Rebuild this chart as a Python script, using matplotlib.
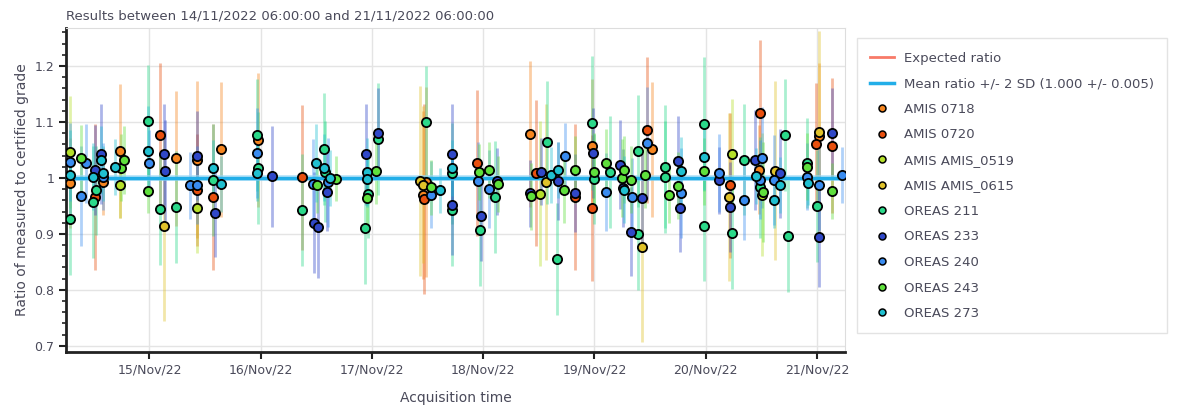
import numpy as np
import pandas as pd
import matplotlib
matplotlib.use("Agg")
import matplotlib.pyplot as plt
import matplotlib.dates as mdates
from matplotlib.lines import Line2D
from matplotlib.ticker import MultipleLocator, FuncFormatter

# window of the QC report
start = pd.Timestamp("2022-11-14 06:00:00")
end = pd.Timestamp("2022-11-21 06:00:00")

mean_ratio = 1.000
mean_sd2 = 0.005

# hours since start, measured/certified ratio, error (+/-)
amis0718_h = [0.9, 8.0, 11.7, 23.7, 28.2, 33.4, 41.4, 77.0, 77.6, 100.2, 113.5, 126.4, 149.6, 162.5]
amis0718_v = [0.991, 0.993, 1.048, 1.035, 1.033, 1.051, 1.068, 0.969, 0.993, 1.079, 1.057, 1.051, 1.015, 1.075]
amis0718_e = [0.08, 0.06, 0.12, 0.12, 0.14, 0.12, 0.12, 0.15, 0.17, 0.13, 0.12, 0.12, 0.08, 0.13]

amis0720_h = [6.3, 20.3, 28.2, 31.7, 50.9, 77.3, 88.6, 101.4, 109.7, 113.5, 125.3, 143.3, 149.8, 161.7, 165.3]
amis0720_v = [0.966, 1.076, 0.978, 0.966, 1.001, 0.963, 1.027, 1.009, 0.966, 0.946, 1.086, 0.987, 1.116, 1.060, 1.058]
amis0720_e = [0.13, 0.13, 0.10, 0.13, 0.13, 0.17, 0.13, 0.13, 0.13, 0.13, 0.13, 0.13, 0.13, 0.11, 0.12]

amis0519_h = [0.9, 11.7, 28.2, 102.3, 143.7, 150.2]
amis0519_v = [1.046, 0.988, 0.946, 0.972, 1.042, 0.970]
amis0519_e = [0.10, 0.06, 0.08, 0.13, 0.10, 0.11]

amis0615_h = [21.2, 76.4, 77.0, 103.6, 124.3, 143.0, 153.0, 162.5]
amis0615_v = [0.915, 0.994, 0.988, 0.993, 0.876, 0.966, 1.013, 1.083]
amis0615_e = [0.17, 0.17, 0.14, 0.14, 0.17, 0.15, 0.16, 0.18]

oreas211_h = [0.9, 5.8, 6.5, 17.6, 20.3, 23.7, 31.7, 41.2, 41.4, 50.9, 55.7, 55.9, 64.4, 65.2,
              67.3, 77.6, 83.3, 83.3, 89.4, 92.6, 103.8, 106.0, 113.5, 114.0, 117.3, 123.3,
              123.5, 129.3, 129.3, 137.6, 137.7, 143.7, 146.2, 149.8, 155.0, 155.7, 159.9, 161.9]
oreas211_v = [0.927, 0.957, 0.978, 1.102, 0.945, 0.948, 0.996, 1.076, 1.018, 0.942, 1.051, 1.011, 0.911, 0.972,
              1.070, 1.100, 1.008, 0.942, 0.907, 0.966, 1.064, 0.855, 1.098, 0.998, 1.011, 0.899,
              1.048, 1.020, 1.002, 1.096, 0.915, 0.901, 1.033, 0.983, 1.076, 0.896, 1.027, 0.950]
oreas211_e = [0.10, 0.10, 0.08, 0.10, 0.10, 0.10, 0.10, 0.10, 0.10, 0.10, 0.10, 0.09, 0.10, 0.08,
              0.10, 0.10, 0.09, 0.10, 0.10, 0.10, 0.11, 0.10, 0.12, 0.08, 0.10, 0.10,
              0.10, 0.11, 0.10, 0.12, 0.10, 0.10, 0.10, 0.09, 0.10, 0.10, 0.08, 0.10]

oreas233_h = [6.3, 7.5, 21.2, 21.4, 28.2, 32.2, 44.5, 53.5, 54.3, 56.3, 64.8, 67.3, 83.3, 83.3, 89.6,
              93.0, 100.2, 102.5, 106.1, 109.7, 113.7, 119.6, 120.2, 121.9, 124.2, 132.0, 132.5,
              140.8, 143.3, 148.6, 154.1, 162.4, 165.3]
oreas233_v = [1.014, 1.043, 1.042, 1.013, 1.040, 0.938, 1.003, 0.920, 0.912, 0.975, 1.042, 1.081, 1.042, 0.952, 0.932,
              0.994, 0.973, 1.011, 0.994, 0.973, 1.045, 1.024, 0.982, 0.904, 0.964, 1.030, 0.947,
              0.996, 0.948, 1.032, 1.008, 0.895, 1.081]
oreas233_e = [0.08, 0.09, 0.09, 0.09, 0.08, 0.08, 0.09, 0.09, 0.09, 0.07, 0.09, 0.08, 0.09, 0.09, 0.08,
              0.06, 0.06, 0.06, 0.07, 0.07, 0.08, 0.08, 0.07, 0.08, 0.08, 0.08, 0.08,
              0.06, 0.08, 0.09, 0.08, 0.09, 0.08]

oreas240_h = [0.9, 3.2, 4.3, 8.0, 17.8, 26.8, 28.2, 41.3, 53.2, 56.6, 78.8, 88.8, 91.2, 107.7,
              116.5, 122.1, 125.3, 132.7, 140.8, 146.2, 149.8, 150.2, 152.8, 159.9, 162.5, 167.3]
oreas240_v = [1.029, 0.968, 1.026, 1.002, 1.026, 0.987, 0.987, 1.045, 0.990, 0.992, 0.970, 0.994, 0.980, 1.039,
              0.975, 0.966, 1.063, 0.973, 1.009, 0.960, 0.997, 1.036, 0.996, 1.002, 0.987, 1.005]
oreas240_e = [0.07, 0.09, 0.07, 0.06, 0.06, 0.06, 0.07, 0.08, 0.08, 0.08, 0.06, 0.07, 0.07, 0.06,
              0.07, 0.07, 0.10, 0.08, 0.07, 0.07, 0.07, 0.09, 0.08, 0.06, 0.08, 0.05]

oreas243_h = [3.2, 11.8, 12.6, 17.6, 54.2, 58.3, 64.9, 66.9, 78.8, 89.1, 91.2, 93.3, 100.3, 107.5,
              109.7, 113.8, 116.5, 119.9, 120.4, 121.9, 124.9, 130.1, 132.0, 137.7, 150.3, 159.9, 165.3]
oreas243_v = [1.035, 1.018, 1.032, 0.977, 0.987, 0.999, 0.964, 1.013, 0.983, 1.010, 1.015, 0.990, 0.967, 0.979,
              1.015, 1.011, 1.027, 1.000, 1.015, 0.997, 1.006, 0.970, 0.986, 1.012, 0.975, 1.020, 0.977]
oreas243_e = [0.06, 0.06, 0.06, 0.04, 0.05, 0.04, 0.05, 0.06, 0.05, 0.05, 0.05, 0.05, 0.06, 0.06,
              0.06, 0.07, 0.06, 0.07, 0.06, 0.06, 0.06, 0.05, 0.06, 0.06, 0.09, 0.06, 0.05]

oreas273_h = [0.9, 5.9, 7.5, 7.9, 10.6, 17.6, 31.7, 33.4, 41.2, 54.0, 55.7, 57.0, 64.9, 64.9,
              80.7, 83.3, 104.7, 106.2, 120.4, 132.7, 137.7, 148.9, 152.8, 154.1, 160.1]
oreas273_v = [1.006, 1.002, 1.032, 1.008, 1.020, 1.048, 1.017, 0.990, 1.009, 1.027, 1.018, 1.000, 1.011, 0.999,
              0.978, 1.017, 1.006, 1.015, 0.979, 1.013, 1.038, 1.003, 0.960, 0.987, 0.991]
oreas273_e = [0.08, 0.06, 0.06, 0.05, 0.05, 0.08, 0.05, 0.05, 0.05, 0.07, 0.06, 0.05, 0.06, 0.05,
              0.04, 0.05, 0.05, 0.05, 0.06, 0.06, 0.06, 0.05, 0.05, 0.05, 0.04]

standards = [
    ("AMIS 0718", "#f5851f", amis0718_h, amis0718_v, amis0718_e),
    ("AMIS 0720", "#e8500f", amis0720_h, amis0720_v, amis0720_e),
    ("AMIS AMIS_0519", "#b5e02a", amis0519_h, amis0519_v, amis0519_e),
    ("AMIS AMIS_0615", "#e0c22a", amis0615_h, amis0615_v, amis0615_e),
    ("OREAS 211", "#2bd98a", oreas211_h, oreas211_v, oreas211_e),
    ("OREAS 233", "#3048c8", oreas233_h, oreas233_v, oreas233_e),
    ("OREAS 240", "#3a8cf0", oreas240_h, oreas240_v, oreas240_e),
    ("OREAS 243", "#5fe03c", oreas243_h, oreas243_v, oreas243_e),
    ("OREAS 273", "#20c0d0", oreas273_h, oreas273_v, oreas273_e),
]

text_col = "#4a4a5a"
plt.rcParams["font.family"] = "DejaVu Sans"

fig = plt.figure(figsize=(11.89, 4.09), dpi=100)
ax = fig.add_axes([0.0555, 0.1394, 0.655, 0.7921])

# error bars behind everything
for name, col, h, v, e in standards:
    t = start + pd.to_timedelta(h, unit="h")
    ax.errorbar(t, v, yerr=e, fmt="none", ecolor=col, elinewidth=2, alpha=0.4, zorder=2)

ax.axhline(1.0, color="#f87a68", lw=2, zorder=3)
ax.axhspan(mean_ratio - mean_sd2, mean_ratio + mean_sd2, color="#9ad8f5", alpha=0.6, lw=0, zorder=3)
ax.axhline(mean_ratio, color="#22aee8", lw=2.5, zorder=3)

handles = [Line2D([], [], color="#f87a68", lw=2),
           Line2D([], [], color="#22aee8", lw=2.5)]
labels = ["Expected ratio", "Mean ratio +/- 2 SD (%.3f +/- %.3f)" % (mean_ratio, mean_sd2)]
for name, col, h, v, e in standards:
    t = start + pd.to_timedelta(h, unit="h")
    ax.scatter(t, v, s=44, color=col, edgecolors="black", linewidths=1.3, zorder=4)
    handles.append(Line2D([], [], ls="none", marker="o", markersize=5,
                          markerfacecolor=col, markeredgecolor="black", markeredgewidth=1.1))
    labels.append(name)

ax.set_xlim(start, end)
ax.set_ylim(0.689, 1.268)
ax.xaxis.set_major_locator(mdates.DayLocator())
ax.xaxis.set_major_formatter(mdates.DateFormatter("%d/%b/%y"))
ax.yaxis.set_major_locator(MultipleLocator(0.1))
ax.yaxis.set_minor_locator(MultipleLocator(0.02))
ax.yaxis.set_major_formatter(FuncFormatter(lambda y, p: "%g" % round(y, 2)))

ax.grid(True, color="#e4e4e4", lw=1, zorder=0)
ax.set_axisbelow(True)
for s in ["top", "right"]:
    ax.spines[s].set_color("#dddddd")
for s in ["left", "bottom"]:
    ax.spines[s].set_color("#222222")
    ax.spines[s].set_linewidth(2)
ax.tick_params(axis="both", colors="#222222", labelcolor=text_col, labelsize=9, width=1.5, length=5)
ax.tick_params(axis="y", which="minor", length=3, width=1.2, colors="#222222")

ax.set_xlabel("Acquisition time", fontsize=10, color=text_col, labelpad=10)
ax.set_ylabel("Ratio of measured to certified grade", fontsize=10, color=text_col)
ax.set_title("Results between %s and %s" % (start.strftime("%d/%m/%Y %H:%M:%S"), end.strftime("%d/%m/%Y %H:%M:%S")),
             fontsize=9.5, color=text_col, loc="left", pad=6)

leg = fig.legend(handles, labels, loc="upper left", bbox_to_anchor=(0.715, 0.922),
                 fontsize=9.5, frameon=True, fancybox=False, edgecolor="#dddddd",
                 labelspacing=0.95, borderpad=1.0, handlelength=1.8, labelcolor=text_col)

fig.savefig("out.png", dpi=100)
